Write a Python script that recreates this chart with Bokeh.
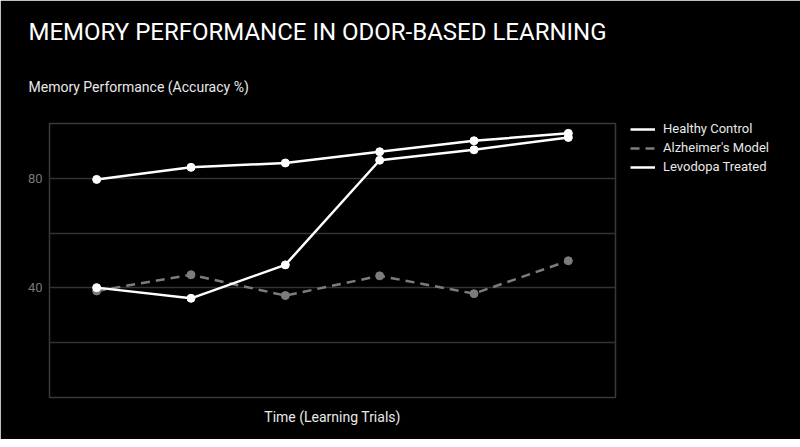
from bokeh.plotting import figure
from bokeh.models import Title, FixedTicker, Legend, LegendItem, Range1d
from bokeh.embed import file_html
from bokeh.resources import INLINE

trials = [1, 2, 3, 4, 5, 6]
healthy = [79.6, 84.0, 85.6, 89.7, 93.7, 96.4]
alzheimer = [38.9, 44.8, 37.2, 44.4, 37.9, 49.9]
levodopa = [40.1, 36.2, 48.4, 86.6, 90.4, 94.9]
y_ticks = [20, 40, 60, 80]
y_tick_labels = {20: "", 40: "40", 60: "", 80: "80"}

FONT = "Roboto"

p = figure(frame_width=566, frame_height=274, output_backend="svg", toolbar_location=None,
           x_range=Range1d(0.5, 6.5), y_range=Range1d(0, 100),
           background_fill_color="black", border_fill_color="black",
           min_border_left=49, min_border_right=177, min_border_top=123,
           min_border_bottom=42)
p.outline_line_color = "#3a3a3a"
p.outline_line_width = 1.5

sub = Title(text="Memory Performance (Accuracy %)", text_color="#e8e8e8",
            text_font=FONT, text_font_size="14px", text_font_style="normal",
            offset=-21, standoff=57)
main = Title(text="MEMORY PERFORMANCE IN ODOR-BASED LEARNING", text_color="white",
             text_font=FONT, text_font_size="24px", text_font_style="normal",
             offset=-21, standoff=5)
p.add_layout(sub, "above")
p.add_layout(main, "above")

p.xaxis.ticker = FixedTicker(ticks=[])
p.xaxis.axis_label = "Time (Learning Trials)"
p.xaxis.axis_label_text_font = FONT
p.xaxis.axis_label_text_font_size = "14px"
p.xaxis.axis_label_text_font_style = "normal"
p.xaxis.axis_label_text_color = "#e8e8e8"
p.xaxis.major_tick_line_color = None
p.xaxis.minor_tick_line_color = None
p.xaxis.major_tick_out = 0
p.xaxis.axis_line_color = None
p.xaxis.axis_label_standoff = 11
p.xgrid.visible = False

p.yaxis.ticker = FixedTicker(ticks=y_ticks)
p.yaxis.major_label_overrides = y_tick_labels
p.yaxis.major_label_text_color = "#777777"
p.yaxis.major_label_text_font = FONT
p.yaxis.major_label_text_font_size = "13px"
p.yaxis.major_tick_line_color = None
p.yaxis.minor_tick_line_color = None
p.yaxis.major_tick_out = 0
p.yaxis.axis_line_color = None
p.yaxis.major_label_standoff = 7
p.ygrid.ticker = FixedTicker(ticks=y_ticks)
p.ygrid.grid_line_color = "#333333"
p.ygrid.grid_line_width = 1.5

l1 = p.line(trials, healthy, line_color="white", line_width=2.5)
p.scatter(trials, healthy, size=8, fill_color="white", line_color="white")
l2 = p.line(trials, alzheimer, line_color="#7c7c7c", line_width=2.5, line_dash="9 6")
p.scatter(trials, alzheimer, size=8, fill_color="#7c7c7c", line_color="#7c7c7c")
l3 = p.line(trials, levodopa, line_color="white", line_width=2.5)
p.scatter(trials, levodopa, size=8, fill_color="white", line_color="white")

legend = Legend(items=[LegendItem(label="Healthy Control", renderers=[l1]),
                       LegendItem(label="Alzheimer's Model", renderers=[l2]),
                       LegendItem(label="Levodopa Treated", renderers=[l3])],
                location=(15, 223))
legend.background_fill_color = "black"
legend.background_fill_alpha = 0
legend.border_line_color = None
legend.label_text_color = "#e8e8e8"
legend.label_text_font = FONT
legend.label_text_font_size = "13px"
legend.glyph_width = 25
legend.glyph_height = 14
legend.label_height = 14
legend.spacing = 4
legend.padding = 0
legend.margin = 0
legend.label_standoff = 8
p.add_layout(legend, "right")

open("out.html", "w").write(file_html(p, INLINE))
